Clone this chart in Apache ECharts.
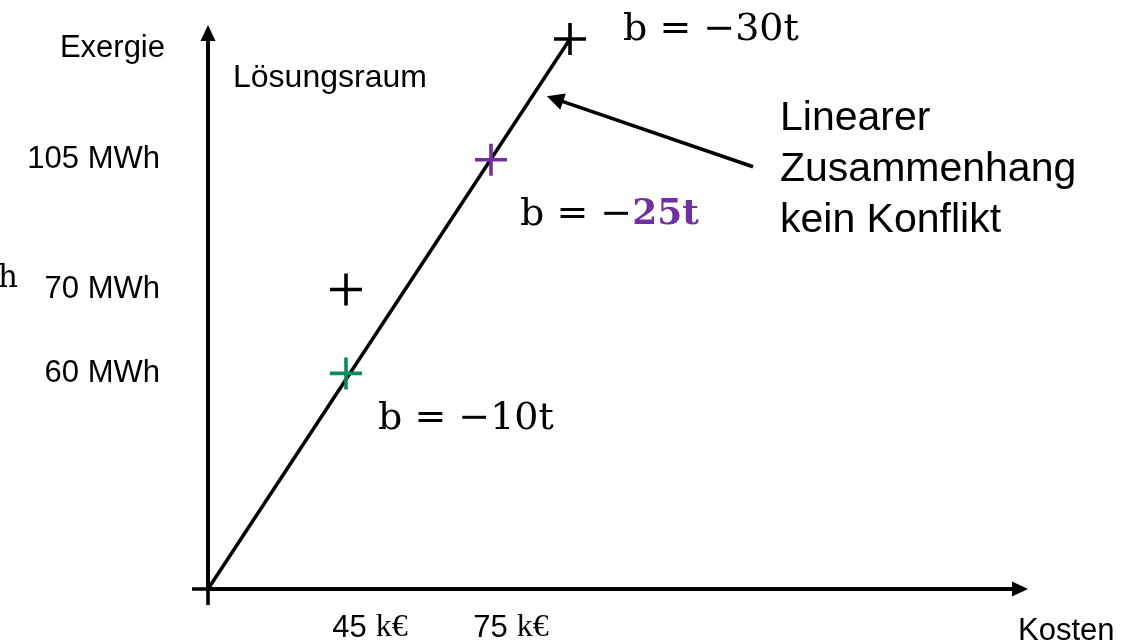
<!DOCTYPE html>
<html>
<head>
<meta charset="utf-8">
<script src="https://cdn.jsdelivr.net/npm/echarts@6/dist/echarts.min.js"></script>
<style>
    html, body { margin: 0; padding: 0; background: #ffffff; }
    #chart_main { width: 1135px; height: 644px; }
</style>
</head>
<body>
<div id="chart_main"></div>
<script>
// diagram coordinates (schematic units, origin at the axis crossing)
var blackPts = [[0, 0], [138, 300], [362, 551]];
var greenPts = [[138, 216]];
var purplePts = [[283, 430]];
var linePts = [[0, 0], [362, 551]];
var arrowPts = [[545, 423], [347, 491]];

var yTickVals = [216, 300, 430];
var yTickLabels = ['60 MWh', '70 MWh', '105 MWh'];
var xTickVals = [162, 303];
var xTickNums = ['45', '75'];

var noteTop = 'b = −30t';
var noteGreen = 'b = −10t';
var notePurple = ['b = −', '25t'];

var sansFont = '"Liberation Sans", Arial, sans-serif';
var serifFont = '"DejaVu Serif", serif';
var plusPath = 'path://M0,14.2H32V17.8H0Z M14.2,0H17.8V32H14.2Z';

var chart_main = echarts.init(document.getElementById('chart_main'));

function plusSeries(name, data, color, label) {
    return {
        name: name,
        type: 'scatter',
        data: data,
        symbol: plusPath,
        symbolSize: 32,
        itemStyle: { color: color, opacity: 1 },
        label: label || { show: false },
        z: 5
    };
}

var option = {
    backgroundColor: '#ffffff',
    animation: false,
    grid: { left: 208, right: 115, top: 33, bottom: 54 },
    xAxis: {
        type: 'value',
        min: 0,
        max: 812,
        splitLine: { show: false },
        axisTick: { show: false },
        axisLine: {
            lineStyle: { color: '#000000', width: 4 },
            symbol: ['none', 'triangle'],
            symbolSize: [15, 16]
        },
        axisLabel: {
            customValues: xTickVals,
            margin: 23,
            formatter: function (v) {
                var i = xTickVals.indexOf(v);
                return '{n|' + xTickNums[i] + '}{u|k€}';
            },
            rich: {
                n: { fontFamily: sansFont, fontSize: 31, color: '#000000', padding: [0, 9, 0, 0] },
                u: { fontFamily: '"Liberation Serif", serif', fontSize: 32, color: '#000000' }
            }
        }
    },
    yAxis: {
        type: 'value',
        min: 0,
        max: 557,
        splitLine: { show: false },
        axisTick: { show: false },
        axisLine: {
            lineStyle: { color: '#000000', width: 4 },
            symbol: ['none', 'triangle'],
            symbolSize: [15, 16]
        },
        axisLabel: {
            customValues: yTickVals,
            margin: 48,
            fontFamily: sansFont,
            fontSize: 31,
            color: '#000000',
            formatter: function (v) {
                return yTickLabels[yTickVals.indexOf(v)];
            }
        }
    },
    series: [
        {
            name: 'linear',
            type: 'line',
            data: linePts,
            symbol: 'none',
            lineStyle: { color: '#000000', width: 3.5 },
            z: 3
        },
        {
            name: 'pfeil',
            type: 'lines',
            coordinateSystem: 'cartesian2d',
            data: [{ coords: arrowPts }],
            symbol: ['none', 'triangle'],
            symbolSize: [15, 17],
            lineStyle: { color: '#000000', width: 3.5, opacity: 1 },
            z: 4
        },
        plusSeries('schwarz', blackPts, '#000000', {
            show: true,
            position: 'right',
            offset: [32, -9],
            formatter: function (p) {
                return p.dataIndex === 2 ? noteTop : '';
            },
            fontFamily: serifFont,
            fontSize: 38,
            color: '#000000'
        }),
        plusSeries('gruen', greenPts, '#0a8a5e', {
            show: true,
            position: 'right',
            offset: [11, 46],
            formatter: noteGreen,
            fontFamily: serifFont,
            fontSize: 38,
            color: '#000000'
        }),
        plusSeries('lila', purplePts, '#7030a0', {
            show: true,
            position: 'right',
            offset: [8, 55],
            formatter: '{a|' + notePurple[0] + '}{b|' + notePurple[1] + '}',
            rich: {
                a: { fontFamily: serifFont, fontSize: 38, color: '#000000' },
                b: { fontFamily: serifFont, fontSize: 36, fontWeight: 'bold', color: '#7030a0' }
            }
        })
    ],
    graphic: [
        {
            type: 'text', x: 165, y: 48,
            style: { text: 'Exergie', font: '31px ' + sansFont, fill: '#000000', align: 'right', verticalAlign: 'middle' }
        },
        {
            type: 'text', x: 233, y: 78,
            style: { text: 'Lösungsraum', font: '32px ' + sansFont, fill: '#000000', align: 'left', verticalAlign: 'middle' }
        },
        {
            type: 'text', x: 18, y: 279,
            style: { text: 'h', font: '31px ' + serifFont, fill: '#000000', align: 'right', verticalAlign: 'middle' }
        },
        {
            type: 'text', x: 1018, y: 631,
            style: { text: 'Kosten', font: '31px ' + sansFont, fill: '#000000', align: 'left', verticalAlign: 'middle' }
        },
        {
            type: 'text', x: 780, y: 93,
            style: {
                text: 'Linearer\nZusammenhang\nkein Konflikt',
                font: '41px ' + sansFont,
                lineHeight: 51,
                fill: '#000000',
                align: 'left',
                verticalAlign: 'top'
            }
        }
    ]
};
chart_main.setOption(option);
</script>
</body>
</html>
